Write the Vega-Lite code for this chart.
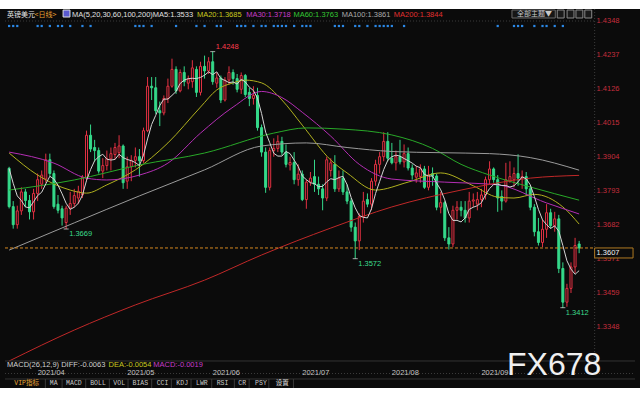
{
"$schema":"https://vega.github.io/schema/vega-lite/v6.json",
"width":640,"height":379,
"autosize":{"type":"none"},
"padding":{"left":0,"right":0,"top":9,"bottom":12},
"background":"#ffffff",
"config":{"view":{"stroke":null,"fill":"#0b0b0b"}},
"datasets":{
"candles":[
{"i":0,"o":1.3867,"h":1.3872,"l":1.3736,"c":1.3742,"ma5":1.3866},
{"i":1,"o":1.3742,"h":1.3760,"l":1.3670,"c":1.3683,"ma5":1.3818},
{"i":2,"o":1.3683,"h":1.3745,"l":1.3670,"c":1.3728,"ma5":1.3777},
{"i":3,"o":1.3728,"h":1.3805,"l":1.3715,"c":1.3790,"ma5":1.3762},
{"i":4,"o":1.3790,"h":1.3800,"l":1.3740,"c":1.3762,"ma5":1.3741},
{"i":5,"o":1.3762,"h":1.3780,"l":1.3700,"c":1.3725,"ma5":1.3738},
{"i":6,"o":1.3725,"h":1.3800,"l":1.3700,"c":1.3785,"ma5":1.3758},
{"i":7,"o":1.3785,"h":1.3850,"l":1.3760,"c":1.3830,"ma5":1.3778},
{"i":8,"o":1.3815,"h":1.3860,"l":1.3800,"c":1.3845,"ma5":1.3789},
{"i":9,"o":1.3832,"h":1.3915,"l":1.3820,"c":1.3895,"ma5":1.3816},
{"i":10,"o":1.3895,"h":1.3915,"l":1.3840,"c":1.3850,"ma5":1.3841},
{"i":11,"o":1.3850,"h":1.3860,"l":1.3735,"c":1.3742,"ma5":1.3832},
{"i":12,"o":1.3750,"h":1.3780,"l":1.3720,"c":1.3730,"ma5":1.3812},
{"i":13,"o":1.3735,"h":1.3745,"l":1.3680,"c":1.3705,"ma5":1.3784},
{"i":14,"o":1.3690,"h":1.3745,"l":1.3669,"c":1.3737,"ma5":1.3753},
{"i":15,"o":1.3737,"h":1.3790,"l":1.3715,"c":1.3752,"ma5":1.3733},
{"i":16,"o":1.3752,"h":1.3800,"l":1.3740,"c":1.3778,"ma5":1.3740},
{"i":17,"o":1.3770,"h":1.3810,"l":1.3750,"c":1.3792,"ma5":1.3753},
{"i":18,"o":1.3780,"h":1.3845,"l":1.3770,"c":1.3838,"ma5":1.3779},
{"i":19,"o":1.3835,"h":1.3990,"l":1.3825,"c":1.3975,"ma5":1.3827},
{"i":20,"o":1.3975,"h":1.4010,"l":1.3920,"c":1.3930,"ma5":1.3863},
{"i":21,"o":1.3935,"h":1.3960,"l":1.3890,"c":1.3925,"ma5":1.3892},
{"i":22,"o":1.3925,"h":1.3935,"l":1.3850,"c":1.3858,"ma5":1.3905},
{"i":23,"o":1.3858,"h":1.3900,"l":1.3835,"c":1.3876,"ma5":1.3913},
{"i":24,"o":1.3876,"h":1.3925,"l":1.3860,"c":1.3898,"ma5":1.3897},
{"i":25,"o":1.3898,"h":1.3935,"l":1.3860,"c":1.3915,"ma5":1.3894},
{"i":26,"o":1.3912,"h":1.3950,"l":1.3895,"c":1.3935,"ma5":1.3896},
{"i":27,"o":1.3918,"h":1.3975,"l":1.3900,"c":1.3940,"ma5":1.3913},
{"i":28,"o":1.3940,"h":1.3945,"l":1.3800,"c":1.3820,"ma5":1.3902},
{"i":29,"o":1.3825,"h":1.3905,"l":1.3800,"c":1.3872,"ma5":1.3896},
{"i":30,"o":1.3872,"h":1.3910,"l":1.3825,"c":1.3893,"ma5":1.3892},
{"i":31,"o":1.3893,"h":1.3935,"l":1.3870,"c":1.3905,"ma5":1.3886},
{"i":32,"o":1.3905,"h":1.3930,"l":1.3840,"c":1.3892,"ma5":1.3876},
{"i":33,"o":1.3892,"h":1.4000,"l":1.3885,"c":1.3990,"ma5":1.3910},
{"i":34,"o":1.3990,"h":1.4165,"l":1.3985,"c":1.4135,"ma5":1.3963},
{"i":35,"o":1.4135,"h":1.4165,"l":1.4090,"c":1.4130,"ma5":1.4010},
{"i":36,"o":1.4130,"h":1.4165,"l":1.4045,"c":1.4055,"ma5":1.4040},
{"i":37,"o":1.4055,"h":1.4085,"l":1.4005,"c":1.4048,"ma5":1.4072},
{"i":38,"o":1.4048,"h":1.4105,"l":1.4040,"c":1.4095,"ma5":1.4093},
{"i":39,"o":1.4095,"h":1.4160,"l":1.4080,"c":1.4135,"ma5":1.4093},
{"i":40,"o":1.4135,"h":1.4225,"l":1.4130,"c":1.4190,"ma5":1.4105},
{"i":41,"o":1.4190,"h":1.4200,"l":1.4110,"c":1.4120,"ma5":1.4118},
{"i":42,"o":1.4120,"h":1.4190,"l":1.4115,"c":1.4180,"ma5":1.4144},
{"i":43,"o":1.4180,"h":1.4200,"l":1.4135,"c":1.4150,"ma5":1.4155},
{"i":44,"o":1.4145,"h":1.4170,"l":1.4125,"c":1.4158,"ma5":1.4160},
{"i":45,"o":1.4150,"h":1.4220,"l":1.4130,"c":1.4195,"ma5":1.4161},
{"i":46,"o":1.4190,"h":1.4200,"l":1.4100,"c":1.4115,"ma5":1.4160},
{"i":47,"o":1.4115,"h":1.4215,"l":1.4105,"c":1.4200,"ma5":1.4164},
{"i":48,"o":1.4200,"h":1.4235,"l":1.4160,"c":1.4185,"ma5":1.4171},
{"i":49,"o":1.4185,"h":1.4230,"l":1.4175,"c":1.4215,"ma5":1.4182},
{"i":50,"o":1.4215,"h":1.4248,"l":1.4140,"c":1.4150,"ma5":1.4173},
{"i":51,"o":1.4145,"h":1.4180,"l":1.4130,"c":1.4162,"ma5":1.4182},
{"i":52,"o":1.4162,"h":1.4170,"l":1.4080,"c":1.4090,"ma5":1.4160},
{"i":53,"o":1.4090,"h":1.4165,"l":1.4085,"c":1.4155,"ma5":1.4154},
{"i":54,"o":1.4155,"h":1.4200,"l":1.4140,"c":1.4180,"ma5":1.4147},
{"i":55,"o":1.4180,"h":1.4190,"l":1.4140,"c":1.4160,"ma5":1.4149},
{"i":56,"o":1.4160,"h":1.4175,"l":1.4115,"c":1.4125,"ma5":1.4142},
{"i":57,"o":1.4125,"h":1.4180,"l":1.4110,"c":1.4170,"ma5":1.4158},
{"i":58,"o":1.4170,"h":1.4175,"l":1.4100,"c":1.4108,"ma5":1.4149},
{"i":59,"o":1.4115,"h":1.4130,"l":1.4070,"c":1.4095,"ma5":1.4132},
{"i":60,"o":1.4095,"h":1.4135,"l":1.4075,"c":1.4105,"ma5":1.4121},
{"i":61,"o":1.4105,"h":1.4130,"l":1.3990,"c":1.4000,"ma5":1.4096},
{"i":62,"o":1.4000,"h":1.4010,"l":1.3905,"c":1.3920,"ma5":1.4046},
{"i":63,"o":1.3920,"h":1.3935,"l":1.3787,"c":1.3805,"ma5":1.3985},
{"i":64,"o":1.3805,"h":1.3935,"l":1.3795,"c":1.3925,"ma5":1.3951},
{"i":65,"o":1.3925,"h":1.3965,"l":1.3905,"c":1.3932,"ma5":1.3916},
{"i":66,"o":1.3932,"h":1.3975,"l":1.3920,"c":1.3955,"ma5":1.3907},
{"i":67,"o":1.3955,"h":1.3970,"l":1.3910,"c":1.3920,"ma5":1.3907},
{"i":68,"o":1.3920,"h":1.3945,"l":1.3870,"c":1.3880,"ma5":1.3922},
{"i":69,"o":1.3878,"h":1.3905,"l":1.3860,"c":1.3886,"ma5":1.3915},
{"i":70,"o":1.3886,"h":1.3920,"l":1.3815,"c":1.3830,"ma5":1.3894},
{"i":71,"o":1.3830,"h":1.3880,"l":1.3810,"c":1.3848,"ma5":1.3873},
{"i":72,"o":1.3848,"h":1.3860,"l":1.3760,"c":1.3765,"ma5":1.3842},
{"i":73,"o":1.3765,"h":1.3830,"l":1.3735,"c":1.3822,"ma5":1.3830},
{"i":74,"o":1.3822,"h":1.3855,"l":1.3810,"c":1.3835,"ma5":1.3820},
{"i":75,"o":1.3840,"h":1.3895,"l":1.3790,"c":1.3815,"ma5":1.3817},
{"i":76,"o":1.3815,"h":1.3840,"l":1.3780,"c":1.3800,"ma5":1.3807},
{"i":77,"o":1.3800,"h":1.3815,"l":1.3730,"c":1.3770,"ma5":1.3808},
{"i":78,"o":1.3770,"h":1.3905,"l":1.3760,"c":1.3895,"ma5":1.3823},
{"i":79,"o":1.3860,"h":1.3900,"l":1.3840,"c":1.3885,"ma5":1.3833},
{"i":80,"o":1.3880,"h":1.3910,"l":1.3790,"c":1.3800,"ma5":1.3830},
{"i":81,"o":1.3800,"h":1.3860,"l":1.3790,"c":1.3835,"ma5":1.3837},
{"i":82,"o":1.3835,"h":1.3860,"l":1.3780,"c":1.3790,"ma5":1.3841},
{"i":83,"o":1.3790,"h":1.3815,"l":1.3750,"c":1.3760,"ma5":1.3814},
{"i":84,"o":1.3760,"h":1.3770,"l":1.3660,"c":1.3675,"ma5":1.3772},
{"i":85,"o":1.3675,"h":1.3690,"l":1.3572,"c":1.3630,"ma5":1.3738},
{"i":86,"o":1.3630,"h":1.3720,"l":1.3600,"c":1.3710,"ma5":1.3713},
{"i":87,"o":1.3710,"h":1.3790,"l":1.3690,"c":1.3760,"ma5":1.3707},
{"i":88,"o":1.3765,"h":1.3785,"l":1.3740,"c":1.3750,"ma5":1.3705},
{"i":89,"o":1.3750,"h":1.3835,"l":1.3730,"c":1.3825,"ma5":1.3735},
{"i":90,"o":1.3825,"h":1.3895,"l":1.3810,"c":1.3880,"ma5":1.3785},
{"i":91,"o":1.3880,"h":1.3920,"l":1.3850,"c":1.3905,"ma5":1.3824},
{"i":92,"o":1.3905,"h":1.3985,"l":1.3890,"c":1.3955,"ma5":1.3863},
{"i":93,"o":1.3955,"h":1.3985,"l":1.3890,"c":1.3900,"ma5":1.3893},
{"i":94,"o":1.3900,"h":1.3950,"l":1.3880,"c":1.3885,"ma5":1.3905},
{"i":95,"o":1.3885,"h":1.3925,"l":1.3860,"c":1.3905,"ma5":1.3910},
{"i":96,"o":1.3905,"h":1.3960,"l":1.3880,"c":1.3888,"ma5":1.3907},
{"i":97,"o":1.3888,"h":1.3945,"l":1.3870,"c":1.3915,"ma5":1.3899},
{"i":98,"o":1.3915,"h":1.3935,"l":1.3860,"c":1.3868,"ma5":1.3892},
{"i":99,"o":1.3868,"h":1.3880,"l":1.3830,"c":1.3845,"ma5":1.3884},
{"i":100,"o":1.3838,"h":1.3875,"l":1.3820,"c":1.3852,"ma5":1.3874},
{"i":101,"o":1.3840,"h":1.3880,"l":1.3820,"c":1.3865,"ma5":1.3869},
{"i":102,"o":1.3865,"h":1.3875,"l":1.3800,"c":1.3805,"ma5":1.3847},
{"i":103,"o":1.3805,"h":1.3875,"l":1.3795,"c":1.3845,"ma5":1.3842},
{"i":104,"o":1.3850,"h":1.3870,"l":1.3810,"c":1.3842,"ma5":1.3842},
{"i":105,"o":1.3842,"h":1.3850,"l":1.3730,"c":1.3740,"ma5":1.3819},
{"i":106,"o":1.3740,"h":1.3790,"l":1.3720,"c":1.3755,"ma5":1.3797},
{"i":107,"o":1.3755,"h":1.3760,"l":1.3630,"c":1.3640,"ma5":1.3764},
{"i":108,"o":1.3640,"h":1.3675,"l":1.3602,"c":1.3620,"ma5":1.3719},
{"i":109,"o":1.3620,"h":1.3745,"l":1.3610,"c":1.3730,"ma5":1.3697},
{"i":110,"o":1.3730,"h":1.3760,"l":1.3700,"c":1.3740,"ma5":1.3697},
{"i":111,"o":1.3740,"h":1.3760,"l":1.3710,"c":1.3730,"ma5":1.3692},
{"i":112,"o":1.3730,"h":1.3760,"l":1.3690,"c":1.3705,"ma5":1.3705},
{"i":113,"o":1.3705,"h":1.3790,"l":1.3690,"c":1.3760,"ma5":1.3733},
{"i":114,"o":1.3760,"h":1.3785,"l":1.3740,"c":1.3764,"ma5":1.3740},
{"i":115,"o":1.3750,"h":1.3790,"l":1.3730,"c":1.3765,"ma5":1.3745},
{"i":116,"o":1.3765,"h":1.3800,"l":1.3740,"c":1.3780,"ma5":1.3755},
{"i":117,"o":1.3780,"h":1.3840,"l":1.3765,"c":1.3830,"ma5":1.3780},
{"i":118,"o":1.3830,"h":1.3890,"l":1.3815,"c":1.3865,"ma5":1.3801},
{"i":119,"o":1.3865,"h":1.3870,"l":1.3820,"c":1.3830,"ma5":1.3814},
{"i":120,"o":1.3830,"h":1.3845,"l":1.3725,"c":1.3770,"ma5":1.3815},
{"i":121,"o":1.3775,"h":1.3795,"l":1.3730,"c":1.3760,"ma5":1.3811},
{"i":122,"o":1.3760,"h":1.3885,"l":1.3755,"c":1.3830,"ma5":1.3811},
{"i":123,"o":1.3825,"h":1.3890,"l":1.3820,"c":1.3840,"ma5":1.3806},
{"i":124,"o":1.3830,"h":1.3870,"l":1.3805,"c":1.3850,"ma5":1.3810},
{"i":125,"o":1.3850,"h":1.3913,"l":1.3810,"c":1.3835,"ma5":1.3823},
{"i":126,"o":1.3835,"h":1.3860,"l":1.3800,"c":1.3840,"ma5":1.3839},
{"i":127,"o":1.3840,"h":1.3855,"l":1.3780,"c":1.3800,"ma5":1.3833},
{"i":128,"o":1.3800,"h":1.3810,"l":1.3730,"c":1.3740,"ma5":1.3813},
{"i":129,"o":1.3740,"h":1.3750,"l":1.3645,"c":1.3660,"ma5":1.3775},
{"i":130,"o":1.3660,"h":1.3705,"l":1.3615,"c":1.3625,"ma5":1.3733},
{"i":131,"o":1.3625,"h":1.3700,"l":1.3610,"c":1.3668,"ma5":1.3699},
{"i":132,"o":1.3668,"h":1.3750,"l":1.3640,"c":1.3722,"ma5":1.3683},
{"i":133,"o":1.3722,"h":1.3735,"l":1.3670,"c":1.3680,"ma5":1.3671},
{"i":134,"o":1.3680,"h":1.3725,"l":1.3660,"c":1.3702,"ma5":1.3679},
{"i":135,"o":1.3702,"h":1.3715,"l":1.3525,"c":1.3540,"ma5":1.3662},
{"i":136,"o":1.3540,"h":1.3560,"l":1.3412,"c":1.3430,"ma5":1.3615},
{"i":137,"o":1.3430,"h":1.3490,"l":1.3415,"c":1.3475,"ma5":1.3565},
{"i":138,"o":1.3475,"h":1.3560,"l":1.3460,"c":1.3545,"ma5":1.3538},
{"i":139,"o":1.3545,"h":1.3640,"l":1.3525,"c":1.3615,"ma5":1.3521},
{"i":140,"o":1.3620,"h":1.3630,"l":1.3590,"c":1.3607,"ma5":1.3533}
],
"ma":[
{"name":"MA20","i":0,"v":1.3917},{"name":"MA20","i":7,"v":1.3845},{"name":"MA20","i":15,"v":1.3796},{"name":"MA20","i":19,"v":1.3786},{"name":"MA20","i":24,"v":1.3813},{"name":"MA20","i":31,"v":1.3862},{"name":"MA20","i":39,"v":1.3950},{"name":"MA20","i":47,"v":1.4067},{"name":"MA20","i":51,"v":1.4123},{"name":"MA20","i":55,"v":1.4146},{"name":"MA20","i":58,"v":1.4155},{"name":"MA20","i":62,"v":1.4146},{"name":"MA20","i":67,"v":1.4090},{"name":"MA20","i":72,"v":1.4008},{"name":"MA20","i":79,"v":1.3894},{"name":"MA20","i":83,"v":1.3852},{"name":"MA20","i":90,"v":1.3796},{"name":"MA20","i":98,"v":1.3822},{"name":"MA20","i":106,"v":1.3852},{"name":"MA20","i":114,"v":1.3810},{"name":"MA20","i":120,"v":1.3773},{"name":"MA20","i":124,"v":1.3770},{"name":"MA20","i":129,"v":1.3782},{"name":"MA20","i":136,"v":1.3741},{"name":"MA20","i":140,"v":1.3685},
{"name":"MA30","i":0,"v":1.3920},{"name":"MA30","i":11,"v":1.3884},{"name":"MA30","i":19,"v":1.3835},{"name":"MA30","i":24,"v":1.3829},{"name":"MA30","i":32,"v":1.3845},{"name":"MA30","i":39,"v":1.3884},{"name":"MA30","i":47,"v":1.3982},{"name":"MA30","i":55,"v":1.4067},{"name":"MA30","i":62,"v":1.4118},{"name":"MA30","i":67,"v":1.4098},{"name":"MA30","i":72,"v":1.4050},{"name":"MA30","i":79,"v":1.3972},{"name":"MA30","i":86,"v":1.3880},{"name":"MA30","i":94,"v":1.3832},{"name":"MA30","i":107,"v":1.3822},{"name":"MA30","i":120,"v":1.3813},{"name":"MA30","i":132,"v":1.3754},{"name":"MA30","i":140,"v":1.3718},
{"name":"MA60","i":0,"v":1.3796},{"name":"MA60","i":16,"v":1.3829},{"name":"MA60","i":32,"v":1.3878},{"name":"MA60","i":48,"v":1.3917},{"name":"MA60","i":65,"v":1.3982},{"name":"MA60","i":73,"v":1.3999},{"name":"MA60","i":82,"v":1.3995},{"name":"MA60","i":94,"v":1.3976},{"name":"MA60","i":104,"v":1.3932},{"name":"MA60","i":111,"v":1.3880},{"name":"MA60","i":118,"v":1.3845},{"name":"MA60","i":128,"v":1.3806},{"name":"MA60","i":140,"v":1.3763},
{"name":"MA100","i":0,"v":1.3600},{"name":"MA100","i":16,"v":1.3689},{"name":"MA100","i":32,"v":1.3777},{"name":"MA100","i":48,"v":1.3862},{"name":"MA100","i":62,"v":1.3940},{"name":"MA100","i":73,"v":1.3950},{"name":"MA100","i":83,"v":1.3935},{"name":"MA100","i":94,"v":1.3922},{"name":"MA100","i":106,"v":1.3918},{"name":"MA100","i":118,"v":1.3915},{"name":"MA100","i":128,"v":1.3902},{"name":"MA100","i":140,"v":1.3861},
{"name":"MA200","i":0,"v":1.3238},{"name":"MA200","i":16,"v":1.3339},{"name":"MA200","i":31,"v":1.3421},{"name":"MA200","i":48,"v":1.3502},{"name":"MA200","i":62,"v":1.3584},{"name":"MA200","i":79,"v":1.3672},{"name":"MA200","i":94,"v":1.3741},{"name":"MA200","i":111,"v":1.3796},{"name":"MA200","i":128,"v":1.3835},{"name":"MA200","i":140,"v":1.3844}
],
"signals":[{"i":0},{"i":1},{"i":2},{"i":7},{"i":8},{"i":10},{"i":12},{"i":13},{"i":15},{"i":18},{"i":20},{"i":31},{"i":32},{"i":33},{"i":35},{"i":41},{"i":46},{"i":48},{"i":51},{"i":52},{"i":56},{"i":57},{"i":58},{"i":60},{"i":62},{"i":63},{"i":65},{"i":66},{"i":67},{"i":68},{"i":70},{"i":72},{"i":73},{"i":74},{"i":80},{"i":81},{"i":82},{"i":85},{"i":86},{"i":88},{"i":90},{"i":91},{"i":92},{"i":93},{"i":94},{"i":97},{"i":120},{"i":124},{"i":125},{"i":126},{"i":129},{"i":131},{"i":132},{"i":134},{"i":136}],
"extremes":[{"i":50,"v":1.4248,"kind":"high"},{"i":14,"v":1.3669,"kind":"low"},{"i":85,"v":1.3572,"kind":"low"},{"i":136,"v":1.3412,"kind":"low"}],
"yticks":[{"v":1.4348},{"v":1.4237},{"v":1.4126},{"v":1.4015},{"v":1.3904},{"v":1.3793},{"v":1.3682},{"v":1.3571},{"v":1.3459},{"v":1.3348}],
"months":[{"i":7,"label":"2021/04"},{"i":29,"label":"2021/05"},{"i":50,"label":"2021/06"},{"i":72,"label":"2021/07"},{"i":94,"label":"2021/08"},{"i":116,"label":"2021/09"}]
},
"layer":[
{"data":{"values":[{}]},"mark":{"type":"rule","color":"#3c3c3c","strokeDash":[1,2],"strokeWidth":1},
"encoding":{
"x":{"datum":-1.0155,"type":"quantitative","scale":{"domain":[-1.0155,153.72],"nice":false,"zero":false},"axis":null},
"x2":{"datum":153.72},
"y":{"datum":1.31972,"type":"quantitative","scale":{"domain":[1.31498,1.43872],"nice":false,"zero":false},"axis":null}}},
{"data":{"values":[{}]},"mark":{"type":"rule","color":"#3c3c3c","strokeDash":[1,2],"strokeWidth":1},
"encoding":{
"x":{"datum":143.81,"type":"quantitative","scale":{"domain":[-1.0155,153.72],"nice":false,"zero":false},"axis":null},
"y":{"datum":1.43872,"type":"quantitative","scale":{"domain":[1.31498,1.43872],"nice":false,"zero":false},"axis":null},
"y2":{"datum":1.3238}}},
{"data":{"name":"yticks"},"mark":{"type":"text","align":"left","baseline":"middle","fontSize":7.5,"font":"Liberation Sans","color":"#c42d3c"},
"encoding":{
"x":{"datum":144.29,"type":"quantitative","scale":{"domain":[-1.0155,153.72],"nice":false,"zero":false},"axis":null},
"y":{"field":"v","type":"quantitative","scale":{"domain":[1.31498,1.43872],"nice":false,"zero":false},"axis":null},
"text":{"field":"v","type":"quantitative","format":".4f"}}},
{"data":{"name":"months"},"mark":{"type":"text","align":"left","baseline":"middle","fontSize":7.5,"font":"Liberation Sans","color":"#c4c4c4"},
"encoding":{
"x":{"field":"i","type":"quantitative","scale":{"domain":[-1.0155,153.72],"nice":false,"zero":false},"axis":null},
"y":{"datum":1.31972,"type":"quantitative","scale":{"domain":[1.31498,1.43872],"nice":false,"zero":false},"axis":null},
"text":{"field":"label"}}},
{"data":{"name":"candles"},"mark":{"type":"rule","strokeWidth":1},
"encoding":{
"x":{"field":"i","type":"quantitative","scale":{"domain":[-1.0155,153.72],"nice":false,"zero":false},"axis":null},
"y":{"field":"l","type":"quantitative","scale":{"domain":[1.31498,1.43872],"nice":false,"zero":false},"axis":null},
"y2":{"field":"h"},
"color":{"condition":{"test":"datum.c >= datum.o","value":"#e23142"},"value":"#35d98a"}}},
{"data":{"name":"candles"},"mark":{"type":"bar","size":2,"strokeWidth":1},
"encoding":{
"x":{"field":"i","type":"quantitative","scale":{"domain":[-1.0155,153.72],"nice":false,"zero":false},"axis":null},
"y":{"field":"o","type":"quantitative","scale":{"domain":[1.31498,1.43872],"nice":false,"zero":false},"axis":null},
"y2":{"field":"c"},
"fill":{"condition":{"test":"datum.c >= datum.o","value":"#0b0b0b"},"value":"#35d98a"},
"stroke":{"condition":{"test":"datum.c >= datum.o","value":"#e23142"},"value":"#35d98a"}}},
{"data":{"name":"ma"},"mark":{"type":"line","strokeWidth":1,"interpolate":"monotone","clip":true},
"encoding":{
"x":{"field":"i","type":"quantitative","scale":{"domain":[-1.0155,153.72],"nice":false,"zero":false},"axis":null},
"y":{"field":"v","type":"quantitative","scale":{"domain":[1.31498,1.43872],"nice":false,"zero":false},"axis":null},
"color":{"field":"name","type":"nominal","scale":{"domain":["MA20","MA30","MA60","MA100","MA200"],"range":["#b0b01e","#b42eb4","#28a828","#9a9a9a","#c02828"]},"legend":null}}},
{"data":{"name":"candles"},"mark":{"type":"line","strokeWidth":1,"color":"#d4d4d4","clip":true},
"encoding":{
"x":{"field":"i","type":"quantitative","scale":{"domain":[-1.0155,153.72],"nice":false,"zero":false},"axis":null},
"y":{"field":"ma5","type":"quantitative","scale":{"domain":[1.31498,1.43872],"nice":false,"zero":false},"axis":null}}},
{"data":{"values":[{}]},"mark":{"type":"rule","color":"#d4861f","strokeDash":[3,2],"strokeWidth":1},
"encoding":{
"x":{"datum":-1.0155,"type":"quantitative","scale":{"domain":[-1.0155,153.72],"nice":false,"zero":false},"axis":null},
"x2":{"datum":143.81},
"y":{"datum":1.3607,"type":"quantitative","scale":{"domain":[1.31498,1.43872],"nice":false,"zero":false},"axis":null}}},
{"data":{"values":[{}]},"mark":{"type":"rule","color":"#3a3a3a","strokeDash":[1,2],"strokeWidth":1},
"encoding":{
"x":{"datum":-1.0155,"type":"quantitative","scale":{"domain":[-1.0155,153.72],"nice":false,"zero":false},"axis":null},
"x2":{"datum":143.81},
"y":{"datum":1.4348,"type":"quantitative","scale":{"domain":[1.31498,1.43872],"nice":false,"zero":false},"axis":null}}},
{"data":{"values":[{}]},"mark":{"type":"rule","color":"#333333","strokeWidth":1},
"encoding":{
"x":{"datum":-1.0155,"type":"quantitative","scale":{"domain":[-1.0155,153.72],"nice":false,"zero":false},"axis":null},
"x2":{"datum":153.72},
"y":{"datum":1.3238,"type":"quantitative","scale":{"domain":[1.31498,1.43872],"nice":false,"zero":false},"axis":null}}},
{"data":{"values":[{}]},"mark":{"type":"rule","color":"#333333","strokeWidth":1},
"encoding":{
"x":{"datum":-1.0155,"type":"quantitative","scale":{"domain":[-1.0155,153.72],"nice":false,"zero":false},"axis":null},
"x2":{"datum":153.72},
"y":{"datum":1.31792,"type":"quantitative","scale":{"domain":[1.31498,1.43872],"nice":false,"zero":false},"axis":null}}},
{"data":{"name":"extremes"},"mark":{"type":"tick","orient":"horizontal","size":5,"thickness":1,"color":"#e8e8e8"},
"encoding":{
"x":{"field":"i","type":"quantitative","scale":{"domain":[-1.0155,153.72],"nice":false,"zero":false},"axis":null},
"y":{"field":"v","type":"quantitative","scale":{"domain":[1.31498,1.43872],"nice":false,"zero":false},"axis":null}}},
{"data":{"name":"extremes"},"transform":[{"filter":"datum.kind == 'high'"}],"mark":{"type":"text","align":"left","baseline":"middle","dx":3,"dy":-5,"fontSize":7.5,"font":"Liberation Sans","color":"#ff3b4b"},
"encoding":{
"x":{"field":"i","type":"quantitative","scale":{"domain":[-1.0155,153.72],"nice":false,"zero":false},"axis":null},
"y":{"field":"v","type":"quantitative","scale":{"domain":[1.31498,1.43872],"nice":false,"zero":false},"axis":null},
"text":{"field":"v","type":"quantitative","format":".4f"}}},
{"data":{"name":"extremes"},"transform":[{"filter":"datum.kind == 'low'"}],"mark":{"type":"text","align":"left","baseline":"middle","dx":3,"dy":5,"fontSize":7.5,"font":"Liberation Sans","color":"#3cdc8c"},
"encoding":{
"x":{"field":"i","type":"quantitative","scale":{"domain":[-1.0155,153.72],"nice":false,"zero":false},"axis":null},
"y":{"field":"v","type":"quantitative","scale":{"domain":[1.31498,1.43872],"nice":false,"zero":false},"axis":null},
"text":{"field":"v","type":"quantitative","format":".4f"}}},
{"data":{"name":"signals"},"mark":{"type":"square","size":5,"filled":true,"opacity":1,"color":"#2b88e6"},
"encoding":{
"x":{"field":"i","type":"quantitative","scale":{"domain":[-1.0155,153.72],"nice":false,"zero":false},"axis":null},
"y":{"datum":1.43317,"type":"quantitative","scale":{"domain":[1.31498,1.43872],"nice":false,"zero":false},"axis":null}}},
{"data":{"values":[{}]},"mark":{"type":"text","text":"英镑美元","align":"left","baseline":"middle","fontSize":7,"font":"Noto Sans CJK SC","color":"#e8e8e8"},
"encoding":{"x":{"datum":-0.53,"type":"quantitative","scale":{"domain":[-1.0155,153.72],"nice":false,"zero":false},"axis":null},"y":{"datum":1.43676,"type":"quantitative","scale":{"domain":[1.31498,1.43872],"nice":false,"zero":false},"axis":null}}},
{"data":{"values":[{}]},"mark":{"type":"text","text":"<日线>","align":"left","baseline":"middle","fontSize":7,"font":"Noto Sans CJK SC","color":"#e8a030"},
"encoding":{"x":{"datum":6.24,"type":"quantitative","scale":{"domain":[-1.0155,153.72],"nice":false,"zero":false},"axis":null},"y":{"datum":1.43676,"type":"quantitative","scale":{"domain":[1.31498,1.43872],"nice":false,"zero":false},"axis":null}}},
{"data":{"values":[{}]},"mark":{"type":"rect","fill":"#5a5ad0","stroke":"#e0e0e0","strokeWidth":1},
"encoding":{"x":{"datum":13.25,"type":"quantitative","scale":{"domain":[-1.0155,153.72],"nice":false,"zero":false},"axis":null},"x2":{"datum":14.94},"y":{"datum":1.43839,"type":"quantitative","scale":{"domain":[1.31498,1.43872],"nice":false,"zero":false},"axis":null},"y2":{"datum":1.4361}}},
{"data":{"values":[{}]},"mark":{"type":"text","text":"MA(5,20,30,60,100,200)","align":"left","baseline":"middle","fontSize":7.5,"font":"Liberation Sans","color":"#e0e0e0"},
"encoding":{"x":{"datum":15.43,"type":"quantitative","scale":{"domain":[-1.0155,153.72],"nice":false,"zero":false},"axis":null},"y":{"datum":1.43676,"type":"quantitative","scale":{"domain":[1.31498,1.43872],"nice":false,"zero":false},"axis":null}}},
{"data":{"values":[{}]},"mark":{"type":"text","text":"MA5:1.3533","align":"left","baseline":"middle","fontSize":7.5,"font":"Liberation Sans","color":"#e0e0e0"},
"encoding":{"x":{"datum":35.25,"type":"quantitative","scale":{"domain":[-1.0155,153.72],"nice":false,"zero":false},"axis":null},"y":{"datum":1.43676,"type":"quantitative","scale":{"domain":[1.31498,1.43872],"nice":false,"zero":false},"axis":null}}},
{"data":{"values":[{}]},"mark":{"type":"text","text":"MA20:1.3685","align":"left","baseline":"middle","fontSize":7.5,"font":"Liberation Sans","color":"#c8c81e"},
"encoding":{"x":{"datum":46.13,"type":"quantitative","scale":{"domain":[-1.0155,153.72],"nice":false,"zero":false},"axis":null},"y":{"datum":1.43676,"type":"quantitative","scale":{"domain":[1.31498,1.43872],"nice":false,"zero":false},"axis":null}}},
{"data":{"values":[{}]},"mark":{"type":"text","text":"MA30:1.3718","align":"left","baseline":"middle","fontSize":7.5,"font":"Liberation Sans","color":"#c83cc8"},
"encoding":{"x":{"datum":58.22,"type":"quantitative","scale":{"domain":[-1.0155,153.72],"nice":false,"zero":false},"axis":null},"y":{"datum":1.43676,"type":"quantitative","scale":{"domain":[1.31498,1.43872],"nice":false,"zero":false},"axis":null}}},
{"data":{"values":[{}]},"mark":{"type":"text","text":"MA60:1.3763","align":"left","baseline":"middle","fontSize":7.5,"font":"Liberation Sans","color":"#34c834"},
"encoding":{"x":{"datum":69.83,"type":"quantitative","scale":{"domain":[-1.0155,153.72],"nice":false,"zero":false},"axis":null},"y":{"datum":1.43676,"type":"quantitative","scale":{"domain":[1.31498,1.43872],"nice":false,"zero":false},"axis":null}}},
{"data":{"values":[{}]},"mark":{"type":"text","text":"MA100:1.3861","align":"left","baseline":"middle","fontSize":7.5,"font":"Liberation Sans","color":"#aaaaaa"},
"encoding":{"x":{"datum":81.67,"type":"quantitative","scale":{"domain":[-1.0155,153.72],"nice":false,"zero":false},"axis":null},"y":{"datum":1.43676,"type":"quantitative","scale":{"domain":[1.31498,1.43872],"nice":false,"zero":false},"axis":null}}},
{"data":{"values":[{}]},"mark":{"type":"text","text":"MA200:1.3844","align":"left","baseline":"middle","fontSize":7.5,"font":"Liberation Sans","color":"#e03030"},
"encoding":{"x":{"datum":94.49,"type":"quantitative","scale":{"domain":[-1.0155,153.72],"nice":false,"zero":false},"axis":null},"y":{"datum":1.43676,"type":"quantitative","scale":{"domain":[1.31498,1.43872],"nice":false,"zero":false},"axis":null}}},
{"data":{"values":[{}]},"mark":{"type":"rect","fill":"#161616","stroke":"#6a6a6a","strokeWidth":1},
"encoding":{"x":{"datum":123.5,"type":"quantitative","scale":{"domain":[-1.0155,153.72],"nice":false,"zero":false},"axis":null},"x2":{"datum":134.14},"y":{"datum":1.43839,"type":"quantitative","scale":{"domain":[1.31498,1.43872],"nice":false,"zero":false},"axis":null},"y2":{"datum":1.43578}}},
{"data":{"values":[{}]},"mark":{"type":"text","text":"全部主题▼","align":"left","baseline":"middle","fontSize":7,"font":"Noto Sans CJK SC","color":"#c8c8c8"},
"encoding":{"x":{"datum":124.71,"type":"quantitative","scale":{"domain":[-1.0155,153.72],"nice":false,"zero":false},"axis":null},"y":{"datum":1.43709,"type":"quantitative","scale":{"domain":[1.31498,1.43872],"nice":false,"zero":false},"axis":null}}},
{"data":{"values":[{}]},"mark":{"type":"rect","fill":"#1a1a1a","stroke":"#8a8a8a","strokeWidth":1},
"encoding":{"x":{"datum":134.62,"type":"quantitative","scale":{"domain":[-1.0155,153.72],"nice":false,"zero":false},"axis":null},"x2":{"datum":136.32},"y":{"datum":1.43839,"type":"quantitative","scale":{"domain":[1.31498,1.43872],"nice":false,"zero":false},"axis":null},"y2":{"datum":1.43578}}},
{"data":{"values":[{}]},"mark":{"type":"rect","fill":"#1a1a1a","stroke":"#8a8a8a","strokeWidth":1},
"encoding":{"x":{"datum":137.04,"type":"quantitative","scale":{"domain":[-1.0155,153.72],"nice":false,"zero":false},"axis":null},"x2":{"datum":138.73},"y":{"datum":1.43839,"type":"quantitative","scale":{"domain":[1.31498,1.43872],"nice":false,"zero":false},"axis":null},"y2":{"datum":1.43578}}},
{"data":{"values":[{}]},"mark":{"type":"rect","fill":"#1a1a1a","stroke":"#8a8a8a","strokeWidth":1},
"encoding":{"x":{"datum":139.22,"type":"quantitative","scale":{"domain":[-1.0155,153.72],"nice":false,"zero":false},"axis":null},"x2":{"datum":140.91},"y":{"datum":1.43839,"type":"quantitative","scale":{"domain":[1.31498,1.43872],"nice":false,"zero":false},"axis":null},"y2":{"datum":1.43578}}},
{"data":{"values":[{}]},"mark":{"type":"rect","fill":"#1a1a1a","stroke":"#8a8a8a","strokeWidth":1},
"encoding":{"x":{"datum":141.39,"type":"quantitative","scale":{"domain":[-1.0155,153.72],"nice":false,"zero":false},"axis":null},"x2":{"datum":143.09},"y":{"datum":1.43839,"type":"quantitative","scale":{"domain":[1.31498,1.43872],"nice":false,"zero":false},"axis":null},"y2":{"datum":1.43578}}},
{"data":{"values":[{}]},"mark":{"type":"rect","fill":"#0b0b0b","stroke":"#b07a22","strokeWidth":1},
"encoding":{"x":{"datum":143.81,"type":"quantitative","scale":{"domain":[-1.0155,153.72],"nice":false,"zero":false},"axis":null},"x2":{"datum":153.24},"y":{"datum":1.3607,"type":"quantitative","scale":{"domain":[1.31498,1.43872],"nice":false,"zero":false},"axis":null},"y2":{"datum":1.35743}}},
{"data":{"values":[{}]},"mark":{"type":"text","text":"1.3607","align":"left","baseline":"middle","fontSize":7.5,"font":"Liberation Sans","color":"#f0f0f0"},
"encoding":{"x":{"datum":144.29,"type":"quantitative","scale":{"domain":[-1.0155,153.72],"nice":false,"zero":false},"axis":null},"y":{"datum":1.35906,"type":"quantitative","scale":{"domain":[1.31498,1.43872],"nice":false,"zero":false},"axis":null}}},
{"data":{"values":[{}]},"mark":{"type":"text","text":"MACD(26,12,9) DIFF:-0.0063","align":"left","baseline":"middle","fontSize":7.5,"font":"Liberation Sans","color":"#d0d0d0"},
"encoding":{"x":{"datum":-0.53,"type":"quantitative","scale":{"domain":[-1.0155,153.72],"nice":false,"zero":false},"axis":null},"y":{"datum":1.32233,"type":"quantitative","scale":{"domain":[1.31498,1.43872],"nice":false,"zero":false},"axis":null}}},
{"data":{"values":[{}]},"mark":{"type":"text","text":"DEA:-0.0054","align":"left","baseline":"middle","fontSize":7.5,"font":"Liberation Sans","color":"#c8c81e"},
"encoding":{"x":{"datum":24.4,"type":"quantitative","scale":{"domain":[-1.0155,153.72],"nice":false,"zero":false},"axis":null},"y":{"datum":1.32233,"type":"quantitative","scale":{"domain":[1.31498,1.43872],"nice":false,"zero":false},"axis":null}}},
{"data":{"values":[{}]},"mark":{"type":"text","text":"MACD:-0.0019","align":"left","baseline":"middle","fontSize":7.5,"font":"Liberation Sans","color":"#c83cc8"},
"encoding":{"x":{"datum":35.4,"type":"quantitative","scale":{"domain":[-1.0155,153.72],"nice":false,"zero":false},"axis":null},"y":{"datum":1.32233,"type":"quantitative","scale":{"domain":[1.31498,1.43872],"nice":false,"zero":false},"axis":null}}},
{"data":{"values":[{}]},"mark":{"type":"text","text":"VIP指标","align":"center","baseline":"middle","fontSize":6.5,"font":"Liberation Mono, Noto Sans CJK SC","color":"#e8a838"},
"encoding":{"x":{"datum":4.3,"type":"quantitative","scale":{"domain":[-1.0155,153.72],"nice":false,"zero":false},"axis":null},"y":{"datum":1.31645,"type":"quantitative","scale":{"domain":[1.31498,1.43872],"nice":false,"zero":false},"axis":null}}},
{"data":{"values":[{}]},"mark":{"type":"text","text":"MA","align":"center","baseline":"middle","fontSize":6.5,"font":"Liberation Mono","color":"#c8c8c8"},
"encoding":{"x":{"datum":10.95,"type":"quantitative","scale":{"domain":[-1.0155,153.72],"nice":false,"zero":false},"axis":null},"y":{"datum":1.31645,"type":"quantitative","scale":{"domain":[1.31498,1.43872],"nice":false,"zero":false},"axis":null}}},
{"data":{"values":[{}]},"mark":{"type":"text","text":"MACD","align":"center","baseline":"middle","fontSize":6.5,"font":"Liberation Mono","color":"#c8c8c8"},
"encoding":{"x":{"datum":15.91,"type":"quantitative","scale":{"domain":[-1.0155,153.72],"nice":false,"zero":false},"axis":null},"y":{"datum":1.31645,"type":"quantitative","scale":{"domain":[1.31498,1.43872],"nice":false,"zero":false},"axis":null}}},
{"data":{"values":[{}]},"mark":{"type":"text","text":"BOLL","align":"center","baseline":"middle","fontSize":6.5,"font":"Liberation Mono","color":"#c8c8c8"},
"encoding":{"x":{"datum":21.83,"type":"quantitative","scale":{"domain":[-1.0155,153.72],"nice":false,"zero":false},"axis":null},"y":{"datum":1.31645,"type":"quantitative","scale":{"domain":[1.31498,1.43872],"nice":false,"zero":false},"axis":null}}},
{"data":{"values":[{}]},"mark":{"type":"text","text":"VOL","align":"center","baseline":"middle","fontSize":6.5,"font":"Liberation Mono","color":"#c8c8c8"},
"encoding":{"x":{"datum":27.03,"type":"quantitative","scale":{"domain":[-1.0155,153.72],"nice":false,"zero":false},"axis":null},"y":{"datum":1.31645,"type":"quantitative","scale":{"domain":[1.31498,1.43872],"nice":false,"zero":false},"axis":null}}},
{"data":{"values":[{}]},"mark":{"type":"text","text":"BIAS","align":"center","baseline":"middle","fontSize":6.5,"font":"Liberation Mono","color":"#c8c8c8"},
"encoding":{"x":{"datum":32.23,"type":"quantitative","scale":{"domain":[-1.0155,153.72],"nice":false,"zero":false},"axis":null},"y":{"datum":1.31645,"type":"quantitative","scale":{"domain":[1.31498,1.43872],"nice":false,"zero":false},"axis":null}}},
{"data":{"values":[{}]},"mark":{"type":"text","text":"CCI","align":"center","baseline":"middle","fontSize":6.5,"font":"Liberation Mono","color":"#c8c8c8"},
"encoding":{"x":{"datum":37.67,"type":"quantitative","scale":{"domain":[-1.0155,153.72],"nice":false,"zero":false},"axis":null},"y":{"datum":1.31645,"type":"quantitative","scale":{"domain":[1.31498,1.43872],"nice":false,"zero":false},"axis":null}}},
{"data":{"values":[{}]},"mark":{"type":"text","text":"KDJ","align":"center","baseline":"middle","fontSize":6.5,"font":"Liberation Mono","color":"#c8c8c8"},
"encoding":{"x":{"datum":42.5,"type":"quantitative","scale":{"domain":[-1.0155,153.72],"nice":false,"zero":false},"axis":null},"y":{"datum":1.31645,"type":"quantitative","scale":{"domain":[1.31498,1.43872],"nice":false,"zero":false},"axis":null}}},
{"data":{"values":[{}]},"mark":{"type":"text","text":"LWR","align":"center","baseline":"middle","fontSize":6.5,"font":"Liberation Mono","color":"#c8c8c8"},
"encoding":{"x":{"datum":47.34,"type":"quantitative","scale":{"domain":[-1.0155,153.72],"nice":false,"zero":false},"axis":null},"y":{"datum":1.31645,"type":"quantitative","scale":{"domain":[1.31498,1.43872],"nice":false,"zero":false},"axis":null}}},
{"data":{"values":[{}]},"mark":{"type":"text","text":"RSI","align":"center","baseline":"middle","fontSize":6.5,"font":"Liberation Mono","color":"#c8c8c8"},
"encoding":{"x":{"datum":52.42,"type":"quantitative","scale":{"domain":[-1.0155,153.72],"nice":false,"zero":false},"axis":null},"y":{"datum":1.31645,"type":"quantitative","scale":{"domain":[1.31498,1.43872],"nice":false,"zero":false},"axis":null}}},
{"data":{"values":[{}]},"mark":{"type":"text","text":"CR","align":"center","baseline":"middle","fontSize":6.5,"font":"Liberation Mono","color":"#c8c8c8"},
"encoding":{"x":{"datum":57.25,"type":"quantitative","scale":{"domain":[-1.0155,153.72],"nice":false,"zero":false},"axis":null},"y":{"datum":1.31645,"type":"quantitative","scale":{"domain":[1.31498,1.43872],"nice":false,"zero":false},"axis":null}}},
{"data":{"values":[{}]},"mark":{"type":"text","text":"PSY","align":"center","baseline":"middle","fontSize":6.5,"font":"Liberation Mono","color":"#c8c8c8"},
"encoding":{"x":{"datum":61.85,"type":"quantitative","scale":{"domain":[-1.0155,153.72],"nice":false,"zero":false},"axis":null},"y":{"datum":1.31645,"type":"quantitative","scale":{"domain":[1.31498,1.43872],"nice":false,"zero":false},"axis":null}}},
{"data":{"values":[{}]},"mark":{"type":"text","text":"设置","align":"center","baseline":"middle","fontSize":6.5,"font":"Noto Sans CJK SC","color":"#e0e0e0"},
"encoding":{"x":{"datum":67.05,"type":"quantitative","scale":{"domain":[-1.0155,153.72],"nice":false,"zero":false},"axis":null},"y":{"datum":1.31645,"type":"quantitative","scale":{"domain":[1.31498,1.43872],"nice":false,"zero":false},"axis":null}}},
{"data":{"values":[{"sep":8.9},{"sep":13.01},{"sep":18.81},{"sep":24.61},{"sep":29.21},{"sep":35.01},{"sep":39.84},{"sep":44.68},{"sep":49.76},{"sep":55.32},{"sep":58.95},{"sep":63.78},{"sep":69.83}]},"mark":{"type":"rule","color":"#3a3a3a","strokeWidth":1},
"encoding":{"x":{"field":"sep","type":"quantitative","scale":{"domain":[-1.0155,153.72],"nice":false,"zero":false},"axis":null},"y":{"datum":1.31792,"type":"quantitative","scale":{"domain":[1.31498,1.43872],"nice":false,"zero":false},"axis":null},"y2":{"datum":1.31498}}},
{"data":{"values":[{}]},"mark":{"type":"text","text":"FX678","align":"left","baseline":"alphabetic","fontSize":32,"font":"Liberation Sans","color":"#f0f0f0"},
"encoding":{"x":{"datum":122.29,"type":"quantitative","scale":{"domain":[-1.0155,153.72],"nice":false,"zero":false},"axis":null},"y":{"datum":1.31923,"type":"quantitative","scale":{"domain":[1.31498,1.43872],"nice":false,"zero":false},"axis":null}}}
]
}
